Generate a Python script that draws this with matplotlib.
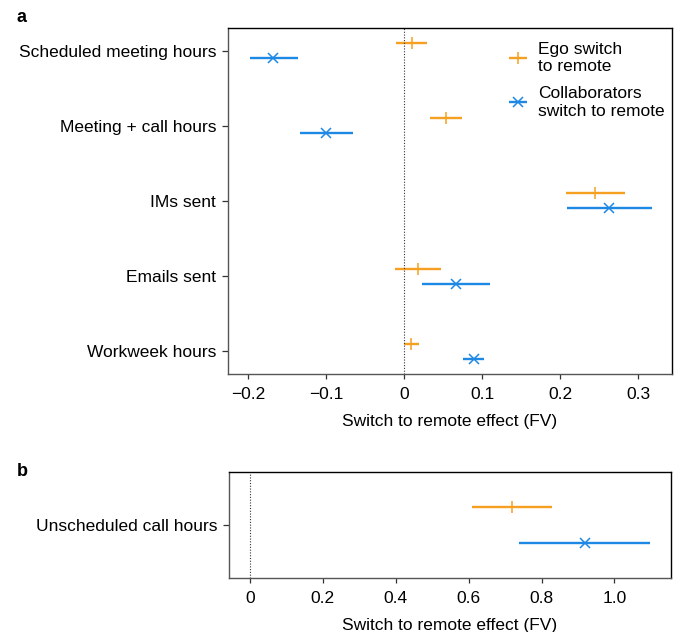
import numpy as np
import matplotlib.pyplot as plt

plt.rcParams['font.family'] = ['Liberation Sans', 'DejaVu Sans']
plt.rcParams['axes.unicode_minus'] = True

# --- Panel a: effects on collaboration / work hours ---
outcomes_a = ["Scheduled meeting hours", "Meeting + call hours", "IMs sent",
              "Emails sent", "Workweek hours"]
ego_est = [0.010, 0.053, 0.245, 0.018, 0.009]
ego_lo = [-0.010, 0.033, 0.207, -0.012, 0.000]
ego_hi = [0.029, 0.074, 0.283, 0.047, 0.019]
collab_est = [-0.168, -0.100, 0.263, 0.066, 0.089]
collab_lo = [-0.198, -0.133, 0.209, 0.023, 0.075]
collab_hi = [-0.136, -0.066, 0.317, 0.110, 0.102]

# --- Panel b: unscheduled calls ---
outcomes_b = ["Unscheduled call hours"]
ego_est_b = [0.718]
ego_lo_b = [0.608]
ego_hi_b = [0.828]
collab_est_b = [0.919]
collab_lo_b = [0.737]
collab_hi_b = [1.098]

ORANGE = "#f5a020"
BLUE = "#1e88e5"
OFF = 0.1
FS = 12.5


def draw_panel(ax, labels, est1, lo1, hi1, est2, lo2, hi2):
    y = np.arange(len(labels))
    e1 = np.array(est1)
    e2 = np.array(est2)
    ax.errorbar(e1, y - OFF, xerr=[e1 - np.array(lo1), np.array(hi1) - e1],
                fmt="+", color=ORANGE, ms=8, mew=1.1, elinewidth=1.7,
                capsize=0, label="Ego switch\nto remote")
    ax.errorbar(e2, y + OFF, xerr=[e2 - np.array(lo2), np.array(hi2) - e2],
                fmt="x", color=BLUE, ms=7, mew=1.1, elinewidth=1.7,
                capsize=0, label="Collaborators\nswitch to remote")
    ax.axvline(0, color="#333333", lw=0.8, ls=(0, (1, 1.5)))
    ax.set_yticks(y)
    ax.set_yticklabels(labels)
    ax.set_ylim(len(labels) - 1 + 0.307, -0.307)
    ax.set_xlabel("Switch to remote effect (FV)", fontsize=FS, labelpad=9)
    ax.tick_params(axis="both", labelsize=FS, width=0.9, color="#333333")
    ax.tick_params(axis="x", length=3.5, pad=5.5)
    ax.tick_params(axis="y", length=4.5, pad=4)
    for side in ["left", "bottom"]:
        ax.spines[side].set_color("#555555")
    for side in ["top", "right"]:
        ax.spines[side].set_color("black")
    for s in ax.spines.values():
        s.set_linewidth(1.0)


fig = plt.figure(figsize=(6.78, 6.32), dpi=100)
ax_a = fig.add_axes([0.336, 0.408, 0.655, 0.548])
ax_b = fig.add_axes([0.338, 0.085, 0.651, 0.168])

draw_panel(ax_a, outcomes_a, ego_est, ego_lo, ego_hi,
           collab_est, collab_lo, collab_hi)
ax_a.set_xlim(-0.226, 0.343)
ax_a.set_xticks([-0.2, -0.1, 0, 0.1, 0.2, 0.3])
ax_a.set_xticklabels(["\u22120.2", "\u22120.1", "0", "0.1", "0.2", "0.3"])
ax_a.legend(loc="upper right", frameon=False, fontsize=FS,
            handlelength=0.9, handletextpad=0.7, labelspacing=0.7,
            borderaxespad=0.4, bbox_to_anchor=(1.015, 1.0))

draw_panel(ax_b, outcomes_b, ego_est_b, ego_lo_b, ego_hi_b,
           collab_est_b, collab_lo_b, collab_hi_b)
ax_b.set_ylim(0.293, -0.293)
ax_b.set_xlim(-0.057, 1.154)
ax_b.set_xticks([0, 0.2, 0.4, 0.6, 0.8, 1.0])
ax_b.set_xticklabels(["0", "0.2", "0.4", "0.6", "0.8", "1.0"])

fig.text(0.025, 0.985, "a", fontsize=13, fontweight="bold", va="top")
fig.text(0.025, 0.268, "b", fontsize=13, fontweight="bold", va="top")

fig.savefig("out.png", dpi=100)
